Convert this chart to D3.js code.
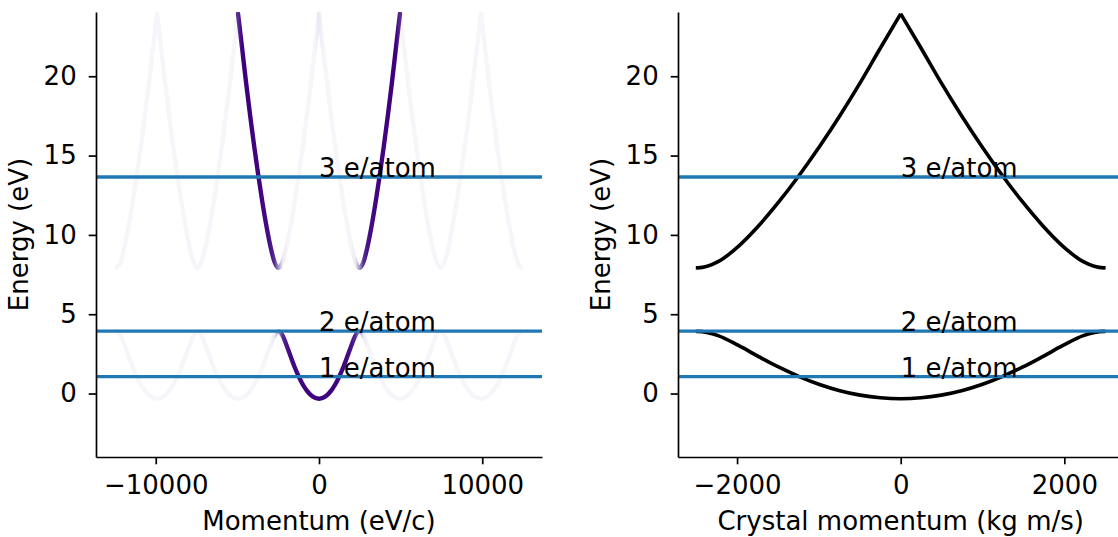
<!DOCTYPE html>
<html>
<head>
<meta charset="utf-8">
<script src="https://cdn.jsdelivr.net/npm/d3@7"></script>
<style>
  body { margin: 0; background: #fff; }
  svg { display: block; }
  text { font-family: "DejaVu Sans", sans-serif; }
</style>
</head>
<body>
<div id="chart"></div>
<script>
// crystal momentum samples over half the zone (eV/c), band energies (eV)
const crystalK = [0, 248, 496, 744, 992, 1240, 1488, 1736, 1984, 2232, 2480];
const band1Energy = [-0.33, -0.27, -0.10, 0.18, 0.57, 1.07, 1.66, 2.33, 3.03, 3.65, 3.92];
const band2Energy = [23.94, 21.78, 19.58, 17.51, 15.57, 13.76, 12.09, 10.58, 9.28, 8.31, 7.92];
// weight of the dominant plane wave in each band
const band1Weight = [1.0, 1.0, 1.0, 1.0, 0.99, 0.99, 0.98, 0.97, 0.94, 0.86, 0.5];
const band2Weight = [0.85, 1.0, 1.0, 1.0, 0.99, 0.99, 0.98, 0.97, 0.94, 0.86, 0.5];

const fillLevels = [1.07, 3.93, 13.65];
const fillLabels = ["1 e/atom", "2 e/atom", "3 e/atom"];

const energyTicks = [0, 5, 10, 15, 20];
const momentumTicks = [-10000, 0, 10000];
const crystalTicks = [-2000, 0, 2000];
const zoneShifts = [-3, -2, -1, 0, 1, 2];

const width = 1118, height = 537;
const fontSize = 26;
const faint = 0.05;

const svg = d3.select("#chart").append("svg")
    .attr("width", width)
    .attr("height", height);
const defs = svg.append("defs");

const y = d3.scaleLinear().domain([-4, 24.05]).range([457, 12]);
const xLeft = d3.scaleLinear().domain([-13660, 13660]).range([96, 542]);
const xRight = d3.scaleLinear().domain([-2722, 2722]).range([678, 1123.4]);

const kb = crystalK[crystalK.length - 1];
const zoneG = 2 * kb;
const pMax = 2.5 * zoneG;

// main: zone shift of the dominant plane wave, partner: the one it mixes with
const bands = [
    { energy: band1Energy, weight: band1Weight, main: s => 0, partner: s => -s, joined: true },
    { energy: band2Energy, weight: band2Weight, main: s => -s, partner: s => 0, joined: false }
];

function intensity(b, s, n, i) {
    let w = 0;
    if (n === b.main(s)) w = b.weight[i];
    else if (n === b.partner(s)) w = 1 - b.weight[i];
    return Math.max(faint, w);
}

// one stretch of a band from p = nG up to p = (n+1)G
function segment(b, n) {
    const up = crystalK.map((k, i) => ({ p: n * zoneG + k, e: b.energy[i], t: intensity(b, 1, n, i) }));
    const down = crystalK.map((k, i) => ({ p: (n + 1) * zoneG - k, e: b.energy[i], t: intensity(b, -1, n + 1, i) }))
        .reverse().slice(1);
    return up.concat(down);
}

function bandPaths(b) {
    const segs = zoneShifts.map(n => segment(b, n));
    if (!b.joined) return segs;
    return [segs.reduce((acc, s) => acc.length ? acc.concat(s.slice(1)) : s, [])];
}

function addClip(id, x0, x1) {
    defs.append("clipPath").attr("id", id)
        .append("rect")
        .attr("x", x0).attr("y", y.range()[1])
        .attr("width", x1 - x0)
        .attr("height", y.range()[0] - y.range()[1]);
}
addClip("clipL", xLeft.range()[0], xLeft.range()[1]);
addClip("clipR", xRight.range()[0], xRight.range()[1]);
addClip("clipZone", xRight(-kb) - 2, xRight(kb) + 2);

const line = (x) => d3.line()
    .x(d => x(d.p))
    .y(d => y(d.e))
    .curve(d3.curveMonotoneX);

function drawAxes(x, ticks, xLabel) {
    const g = svg.append("g");
    const fmt = d3.format("d");
    const ax = g.append("g")
        .attr("transform", `translate(0,${y.range()[0]})`)
        .call(d3.axisBottom(x).tickValues(ticks).tickFormat(fmt)
            .tickSize(7.3).tickSizeOuter(0).tickPadding(11));
    const ay = g.append("g")
        .attr("transform", `translate(${x.range()[0]},0)`)
        .call(d3.axisLeft(y).tickValues(energyTicks).tickFormat(fmt)
            .tickSize(7.3).tickSizeOuter(0).tickPadding(12));
    [ax, ay].forEach(a => {
        a.selectAll("path.domain").attr("stroke", "#000").attr("stroke-width", 1.7);
        a.selectAll(".tick line").attr("stroke", "#000").attr("stroke-width", 1.7);
        a.selectAll(".tick text").attr("fill", "#000")
            .style("font-size", fontSize + "px")
            .style("font-family", "'DejaVu Sans', sans-serif");
    });
    const mid = (x.range()[0] + x.range()[1]) / 2;
    g.append("text")
        .attr("x", mid).attr("y", 530)
        .attr("text-anchor", "middle")
        .style("font-size", fontSize + "px")
        .text(xLabel);
    g.append("text")
        .attr("transform", `translate(${x.range()[0] - 68},${(y.range()[0] + y.range()[1]) / 2}) rotate(-90)`)
        .attr("text-anchor", "middle")
        .style("font-size", fontSize + "px")
        .text("Energy (eV)");
}

// ---- left panel: extended zone, coloured by plane-wave weight
const left = svg.append("g").attr("clip-path", "url(#clipL)");
let gid = 0;
const leftPaths = [];
bands.forEach(b => {
    bandPaths(b).forEach(pts => {
        pts = pts.filter(d => Math.abs(d.p) <= pMax + 1);
        if (pts.length > 1) leftPaths.push({ pts, level: d3.max(pts, d => d.t) });
    });
});
leftPaths.sort((a, c) => a.level - c.level).forEach(c => {
    const id = "grad" + (gid++);
    const x1 = xLeft(c.pts[0].p), x2 = xLeft(c.pts[c.pts.length - 1].p);
    const grad = defs.append("linearGradient").attr("id", id)
        .attr("gradientUnits", "userSpaceOnUse")
        .attr("x1", x1).attr("x2", x2).attr("y1", 0).attr("y2", 0);
    grad.selectAll("stop").data(c.pts).join("stop")
        .attr("offset", d => (xLeft(d.p) - x1) / (x2 - x1))
        .attr("stop-color", d => d3.interpolatePurples(d.t));
    left.append("path")
        .datum(c.pts)
        .attr("d", line(xLeft))
        .attr("fill", "none")
        .attr("stroke", `url(#${id})`)
        .attr("stroke-width", 4.4)
        .attr("stroke-linecap", "round");
});

// ---- right panel: reduced zone
const right = svg.append("g").attr("clip-path", "url(#clipR)")
    .append("g").attr("clip-path", "url(#clipZone)");
bands.forEach(b => {
    bandPaths(b).forEach(pts => {
        pts = pts.filter(d => Math.abs(d.p) <= zoneG);
        if (pts.length < 2) return;
        right.append("path")
            .datum(pts)
            .attr("d", line(xRight))
            .attr("fill", "none")
            .attr("stroke", "#000")
            .attr("stroke-width", 3.6);
    });
});

// ---- filling levels and labels
[[xLeft, "clipL"], [xRight, "clipR"]].forEach(([x, clip]) => {
    const g = svg.append("g").attr("clip-path", `url(#${clip})`);
    g.selectAll("line").data(fillLevels).join("line")
        .attr("x1", x.range()[0]).attr("x2", x.range()[1])
        .attr("y1", d => y(d)).attr("y2", d => y(d))
        .attr("stroke", "#1f77b4")
        .attr("stroke-width", 3.3);
    svg.append("g").selectAll("text").data(fillLevels).join("text")
        .attr("x", x(0)).attr("y", d => y(d))
        .style("font-size", fontSize + "px")
        .text((d, i) => fillLabels[i]);
});

drawAxes(xLeft, momentumTicks, "Momentum (eV/c)");
drawAxes(xRight, crystalTicks, "Crystal momentum (kg m/s)");
</script>
</body>
</html>
